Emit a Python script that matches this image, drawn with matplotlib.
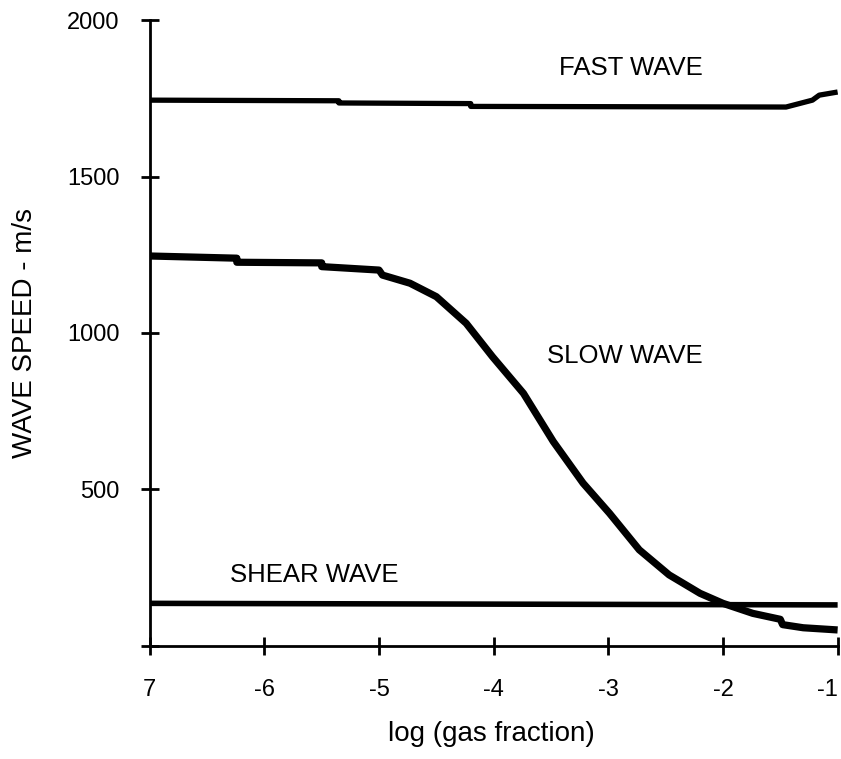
import matplotlib.pyplot as plt

plt.rcParams['font.family'] = ['Liberation Sans', 'DejaVu Sans']

# data
fast_x = [-7, -5.35, -5.35, -4.2, -4.2, -1.45, -1.22, -1.16, -1.0]
fast_y = [1744, 1742, 1735, 1733, 1724, 1722, 1744, 1760, 1770]

slow_x = [-7, -6.24, -6.24, -5.5, -5.5, -5.0, -4.97, -4.73, -4.5, -4.24, -4.01, -3.74,
          -3.48, -3.22, -2.99, -2.73, -2.47, -2.2, -2.0, -1.74, -1.5, -1.48, -1.3, -1.0]
slow_y = [1246, 1239, 1226, 1224, 1212, 1201, 1185, 1159, 1116, 1031, 924, 807,
          653, 520, 424, 307, 227, 168, 136, 104, 85, 68, 58, 51]

shear_x = [-7, -1]
shear_y = [136, 131]

x_ticks = [-7, -6, -5, -4, -3, -2, -1]
x_tick_labels = ['7', '-6', '-5', '-4', '-3', '-2', '-1']
y_ticks = [0, 500, 1000, 1500, 2000]
y_tick_labels = ['', '500', '1000', '1500', '2000']

fig = plt.figure(figsize=(8.41, 7.59), dpi=100)
ax = fig.add_axes([0.178, 0.149, 0.818, 0.8246])

ax.plot(fast_x, fast_y, color='black', lw=3.8, solid_capstyle='butt')
ax.plot(slow_x, slow_y, color='black', lw=5.2, solid_capstyle='butt')
ax.plot(shear_x, shear_y, color='black', lw=4, solid_capstyle='butt')

ax.text(-2.8, 1847, 'FAST WAVE', fontsize=18.5, ha='center', va='center')
ax.text(-2.86, 928, 'SLOW WAVE', fontsize=18.5, ha='center', va='center')
ax.text(-5.566, 225, 'SHEAR WAVE', fontsize=18.5, ha='center', va='center')

ax.set_xlim(-7, -1)
ax.set_ylim(0, 2000)
ax.set_xticks(x_ticks)
ax.set_xticklabels(x_tick_labels)
ax.set_yticks(y_ticks)
ax.set_yticklabels(y_tick_labels)
ax.get_xticklabels()[-1].set_horizontalalignment('right')

for side in ['top', 'right']:
    ax.spines[side].set_visible(False)
for side in ['left', 'bottom']:
    ax.spines[side].set_linewidth(2)
ax.tick_params(direction='inout', length=13, width=2, labelsize=17)
ax.tick_params(axis='x', pad=17)
ax.tick_params(axis='y', pad=15)

ax.set_xlabel('log (gas fraction)', fontsize=20)
ax.set_ylabel('WAVE SPEED - m/s', fontsize=20)
ax.xaxis.set_label_coords(0.496, -0.12)
ax.yaxis.set_label_coords(-0.163, 0.5)

fig.savefig('out.png', dpi=100)
